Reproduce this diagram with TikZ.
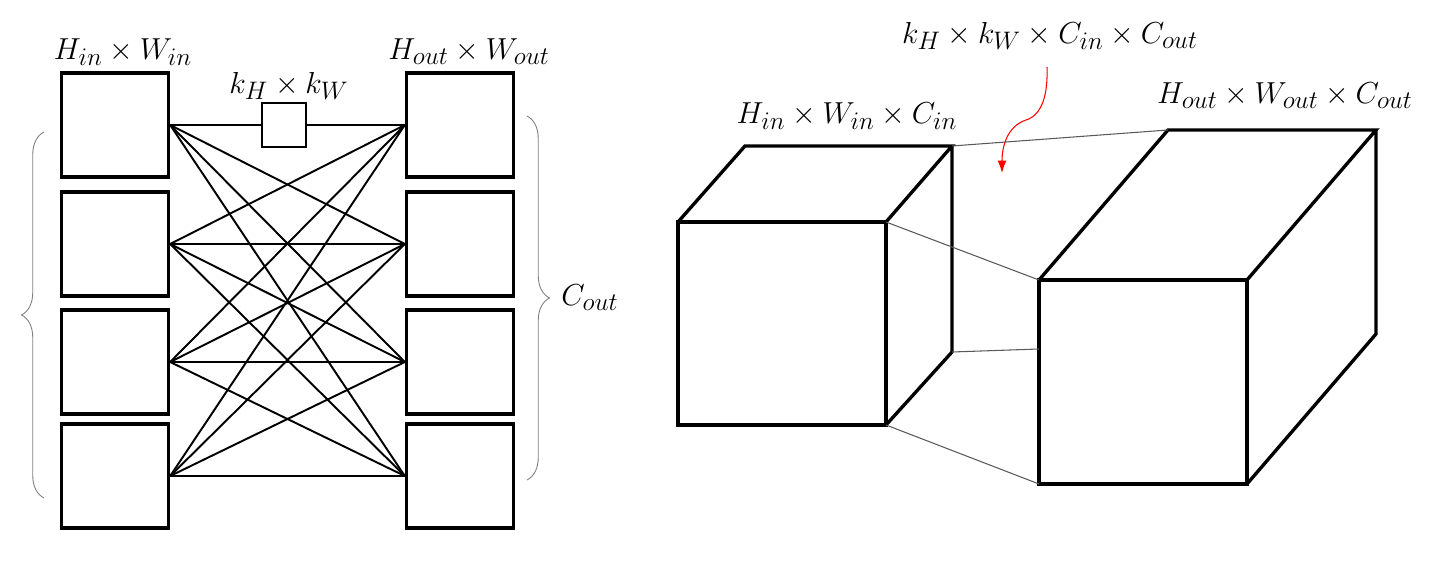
\documentclass[tikz,border=0pt]{standalone}
\usepackage{amsmath}
\usepackage{tikz}
\usetikzlibrary{decorations.pathreplacing,arrows.meta}

\begin{document}
\begin{tikzpicture}[x=0.02cm,y=-0.02cm,
	fmap/.style={draw,line width=1.9pt,minimum width=2.14cm,minimum height=2.08cm,inner sep=0pt},
	link/.style={line width=1.1pt},
	thinlink/.style={line width=0.6pt,gray!70!black},
	cube/.style={line width=1.9pt,line join=miter},
	brc/.style={decorate,decoration={brace,amplitude=0.45cm},gray,line width=0.5pt},
	lbl/.style={font=\fontsize{19}{23}\selectfont,inner sep=0pt}]
	\useasboundingbox (0,0) rectangle (1448,564);
	% channels of the input and of the output
	\foreach \i/\y in {1/125,2/244,3/362,4/476} {
		\node[fmap] (in\i) at (115,\y) {};
		\node[fmap] (out\i) at (460,\y) {};
	}
	\foreach \i in {1,...,4}
		\foreach \j in {1,...,4}
			\draw[link] (in\i.east) -- (out\j.west);
	\node[draw,fill=white,line width=1.6pt,minimum size=0.88cm,inner sep=0pt] (kern) at (284,125) {};
	\node[lbl] (lin) at (123,52) {$H_{in}\times W_{in}$};
	\node[lbl] (lout) at (469,52) {$H_{out}\times W_{out}$};
	\node[lbl] (lkern) at (289,86) {$k_H\times k_W$};
	\draw[brc] (44,498) -- (44,132);
	\draw[brc] (527,116) -- (527,480);
	\node[lbl] (cout) at (590,298) {$C_{out}$};

	% input tensor
	\coordinate (a1) at (678,222);
	\coordinate (a2) at (886,222);
	\coordinate (a3) at (886,425);
	\coordinate (a5) at (745,146);
	\coordinate (a6) at (952,146);
	\coordinate (a7) at (952,352);
	\draw[cube] (a1) rectangle (a3);
	\draw[cube] (a1) -- (a5) -- (a6) -- (a2) (a6) -- (a7) -- (a3);
	% output tensor
	\coordinate (b1) at (1039,280);
	\coordinate (b2) at (1247,280);
	\coordinate (b3) at (1247,484);
	\coordinate (b4) at (1039,484);
	\coordinate (b5) at (1168,130);
	\coordinate (b6) at (1376,130);
	\coordinate (b7) at (1376,334);
	\coordinate (b8) at (1039,349);
	\draw[cube] (b1) rectangle (b3);
	\draw[cube] (b1) -- (b5) -- (b6) -- (b2) (b6) -- (b7) -- (b3);
	\draw[thinlink] (a6) -- (b5) (a2) -- (b1) (a7) -- (b8) (a3) -- (b4);
	\node[lbl] (tin) at (847,116) {$H_{in}\times W_{in}\times C_{in}$};
	\node[lbl] (tout) at (1285,96) {$H_{out}\times W_{out}\times C_{out}$};
	\node[lbl] (tker) at (1050,36) {$k_H\times k_W\times C_{in}\times C_{out}$};
	\coordinate (kfrom) at (1047,67);
	\coordinate (kto) at (1002,173);
	\draw[red,line width=0.6pt,-{Latex[length=2.5mm,width=1.8mm]}] (kfrom) .. controls (1048,95) and (1042,115) .. (1026,120) .. controls (1008,126) and (1002,145) .. (kto);
\end{tikzpicture}
\end{document}
